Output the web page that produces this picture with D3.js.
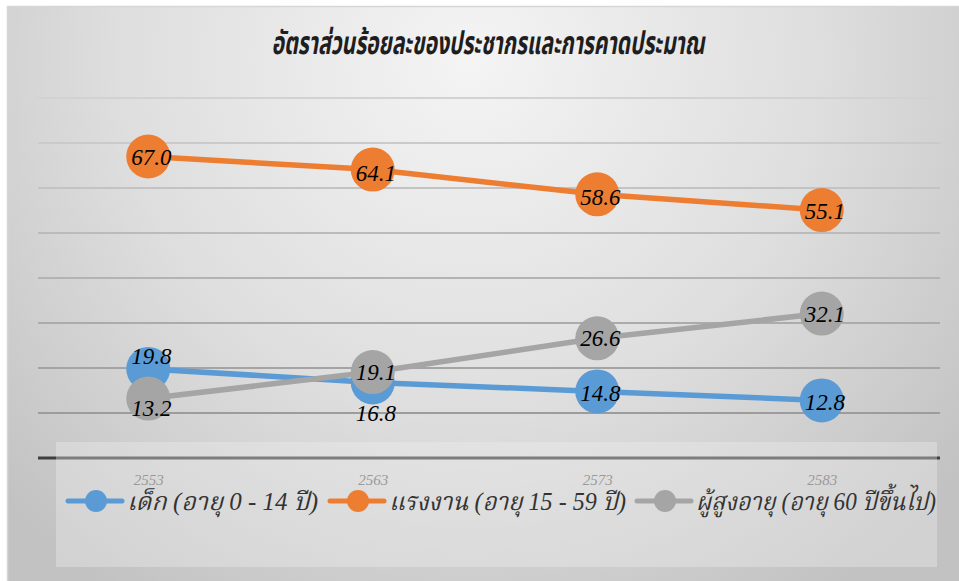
<!DOCTYPE html>
<html>
<head>
<meta charset="utf-8">
<script src="https://cdn.jsdelivr.net/npm/d3@7/dist/d3.min.js"></script>
<style>
  html, body { margin: 0; padding: 0; background: #ffffff; }
  svg { display: block; }
</style>
</head>
<body>
<svg id="chart" width="959" height="581"></svg>
<script>
// ---- data ----
const years = ["2553", "2563", "2573", "2583"];
const seriesNames = ["เด็ก (อายุ 0 - 14 ปี)", "แรงงาน (อายุ 15 - 59 ปี)", "ผู้สูงอายุ (อายุ 60 ปีขึ้นไป)"];
const children = [19.8, 16.8, 14.8, 12.8];
const workers = [67.0, 64.1, 58.6, 55.1];
const elderly = [13.2, 19.1, 26.6, 32.1];
const yTicks = [0, 10, 20, 30, 40, 50, 60, 70, 80];
const titleText = "อัตราส่วนร้อยละของประชากรและการคาดประมาณ";

// ---- styling / layout ----
const colors = ["#5B9BD5", "#ED7D31", "#A5A5A5"];
const seriesValues = [children, workers, elderly];
// label vertical offsets (px) per series/point to mimic the reference placement
const labelDy = [[-13, 31, 2, 2], [0, 3, 3, 1], [9, 0, 0, 0]];
const legendX = [68, 330, 637];
const legendTextW = [191, 237, 240];

const svg = d3.select("#chart");
const W = 959, H = 581;

const defs = svg.append("defs");
const rg = defs.append("radialGradient").attr("id", "bg")
  .attr("gradientUnits", "userSpaceOnUse")
  .attr("cx", 470).attr("cy", 60).attr("r", 640);
rg.append("stop").attr("offset", "0%").attr("stop-color", "#f4f4f4");
rg.append("stop").attr("offset", "55%").attr("stop-color", "#dedede");
rg.append("stop").attr("offset", "100%").attr("stop-color", "#c2c2c2");

// chart background
svg.append("rect").attr("x", 7).attr("y", 6).attr("width", W - 7).attr("height", H - 6)
  .attr("fill", "url(#bg)");
svg.append("path").attr("d", `M7.5,${H} V6.5 H${W}`).attr("fill", "none")
  .attr("stroke", "#d6d6d6").attr("stroke-width", 1.5);

const x = d3.scalePoint().domain(years).range([36, 934]).padding(0.5);
const y = d3.scaleLinear().domain([0, 80]).range([458, 98]);
const gridColor = d3.scaleLinear().domain([80, 10]).range(["#d2d2d2", "#9c9c9c"]);

// gridlines
svg.append("g").selectAll("line").data(yTicks.filter(t => t > 0)).join("line")
  .attr("x1", 38).attr("x2", 940)
  .attr("y1", d => y(d)).attr("y2", d => y(d))
  .attr("stroke", d => gridColor(d)).attr("stroke-width", 2);

// axis
const axis = svg.append("g").attr("transform", `translate(0,${y(0)})`)
  .call(d3.axisBottom(x).tickSize(0).tickPadding(0));
axis.select(".domain").remove();
svg.append("line").attr("x1", 38).attr("x2", 940).attr("y1", y(0)).attr("y2", y(0))
  .attr("stroke", "#3f3f3f").attr("stroke-width", 3);
axis.selectAll(".tick text")
  .attr("y", 27)
  .attr("dy", 0)
  .attr("font-family", "'Liberation Serif', serif")
  .attr("font-style", "italic")
  .attr("font-size", 15)
  .attr("fill", "#6a6a6a");

// title
svg.append("text").attr("x", 488).attr("y", 54).attr("text-anchor", "middle")
  .attr("font-family", "'Noto Sans Thai', 'Noto Serif Thai', 'Loma', 'Garuda', sans-serif")
  .attr("font-weight", "bold").attr("font-style", "italic")
  .attr("font-size", 32).attr("fill", "#1e1e1e")
  .attr("textLength", 433).attr("lengthAdjust", "spacingAndGlyphs")
  .text(titleText);

// lines and markers
const lineGen = d3.line().x((d, i) => x(years[i])).y(d => y(d));
seriesValues.forEach((vals, s) => {
  const g = svg.append("g");
  g.append("path").datum(vals).attr("d", lineGen)
    .attr("fill", "none").attr("stroke", colors[s]).attr("stroke-width", 5.5)
    .attr("stroke-linecap", "round");
  g.selectAll("circle").data(vals).join("circle")
    .attr("cx", (d, i) => x(years[i])).attr("cy", d => y(d)).attr("r", 22)
    .attr("fill", colors[s]);
});
// labels
seriesValues.forEach((vals, s) => {
  svg.append("g").selectAll("text").data(vals).join("text")
    .attr("x", (d, i) => x(years[i]) + 3)
    .attr("y", (d, i) => y(d) + labelDy[s][i])
    .attr("dy", "0.35em")
    .attr("text-anchor", "middle")
    .attr("font-family", "'Liberation Serif', serif")
    .attr("font-style", "italic")
    .attr("font-size", 23)
    .attr("fill", "#000")
    .text(d => d.toFixed(1));
});

// legend box
svg.append("rect").attr("x", 56).attr("y", 442).attr("width", 881).attr("height", 125)
  .attr("fill", "#f0f0f0").attr("fill-opacity", 0.35);

const leg = svg.append("g");
seriesNames.forEach((name, s) => {
  const lx = legendX[s], ly = 501;
  leg.append("line").attr("x1", lx).attr("x2", lx + 54).attr("y1", ly).attr("y2", ly)
    .attr("stroke", colors[s]).attr("stroke-width", 5).attr("stroke-linecap", "round");
  leg.append("circle").attr("cx", lx + 28).attr("cy", ly).attr("r", 11).attr("fill", colors[s]);
  leg.append("text").attr("x", lx + 59).attr("y", ly + 9)
    .attr("font-family", "'Liberation Serif', 'Noto Serif Thai', 'Noto Sans Thai', serif")
    .attr("font-style", "italic").attr("font-size", 25).attr("fill", "#333")
    .attr("textLength", legendTextW[s]).attr("lengthAdjust", "spacingAndGlyphs")
    .text(name);
});
</script>
</body>
</html>
